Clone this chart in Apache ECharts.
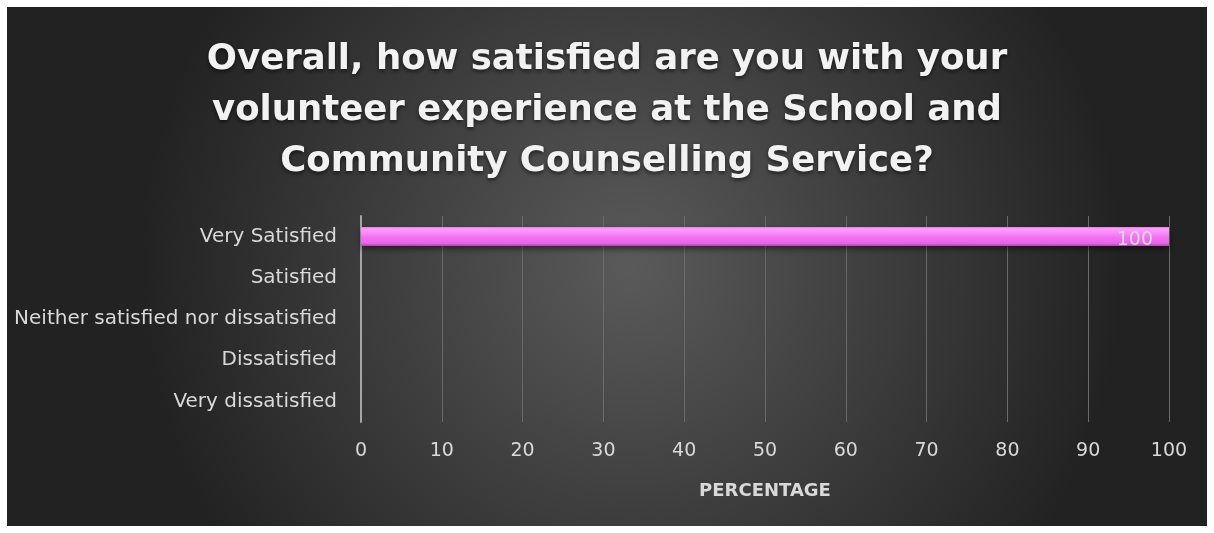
<!DOCTYPE html>
<html><head><meta charset="utf-8">
<script src="https://cdn.jsdelivr.net/npm/echarts@6/dist/echarts.min.js"></script>
<style>
html,body{margin:0;padding:0;background:#fff;}
#c{position:absolute;left:7px;top:7px;width:1200px;height:519px;}
</style></head><body>
<div id="c"></div>
<script>
const categories = ["Very Satisfied","Satisfied","Neither satisfied nor dissatisfied","Dissatisfied","Very dissatisfied"];
const values = [100, null, null, null, null];
const titleText = "Overall, how satisfied are you with your\nvolunteer experience at the School and\nCommunity Counselling Service?";
const axisTitle = "PERCENTAGE";

const chart = echarts.init(document.getElementById('c'));
chart.setOption({
  backgroundColor: {
    type: 'radial', x: 0.52, y: 0.5, r: 0.95,
    colorStops: [{offset: 0, color: '#5a5a5a'}, {offset: 1, color: '#222222'}]
  },
  title: {
    text: titleText, left: 'center', top: 22,
    textStyle: {color: '#f2f2f2', fontFamily: 'DejaVu Sans', fontWeight: 'bold', fontSize: 35.5, lineHeight: 51,
      textShadowColor: 'rgba(0,0,0,0.6)', textShadowBlur: 4, textShadowOffsetY: 2}
  },
  grid: {left: 354, right: 38, top: 209, bottom: 104, containLabel: false},
  xAxis: {
    type: 'value', min: 0, max: 100, interval: 10,
    name: axisTitle, nameLocation: 'middle', nameGap: 60,
    nameTextStyle: {color: '#d9d9d9', fontFamily: 'DejaVu Sans', fontWeight: 'bold', fontSize: 18},
    axisLabel: {color: '#d9d9d9', fontFamily: 'DejaVu Sans', fontSize: 19, margin: 20},
    axisLine: {show: false}, axisTick: {show: false},
    splitLine: {lineStyle: {color: '#6a6a6a', width: 1}}
  },
  yAxis: {
    type: 'category', data: categories, inverse: true,
    axisLabel: {color: '#d9d9d9', fontFamily: 'DejaVu Sans', fontSize: 20, margin: 24},
    axisLine: {show: true, lineStyle: {color: '#a6a6a6', width: 2}}, axisTick: {show: false},
    splitLine: {show: false}
  },
  series: [{
    type: 'bar', data: values, barWidth: 19,
    itemStyle: {
      color: {type: 'linear', x: 0, y: 0, x2: 0, y2: 1, colorStops: [
        {offset: 0, color: '#e880e8'}, {offset: 0.1, color: '#ff9cff'}, {offset: 0.3, color: '#fb8afb'},
        {offset: 0.55, color: '#f070f0'}, {offset: 0.85, color: '#e865e8'}, {offset: 1, color: '#a548a5'}]},
      shadowColor: 'rgba(0,0,0,0.5)', shadowBlur: 6, shadowOffsetY: 3
    },
    label: {show: true, position: 'insideRight', distance: 16, color: '#d9d9d9', fontFamily: 'DejaVu Sans', fontSize: 19, offset: [0, 3]}
  }]
});
</script>
</body></html>
